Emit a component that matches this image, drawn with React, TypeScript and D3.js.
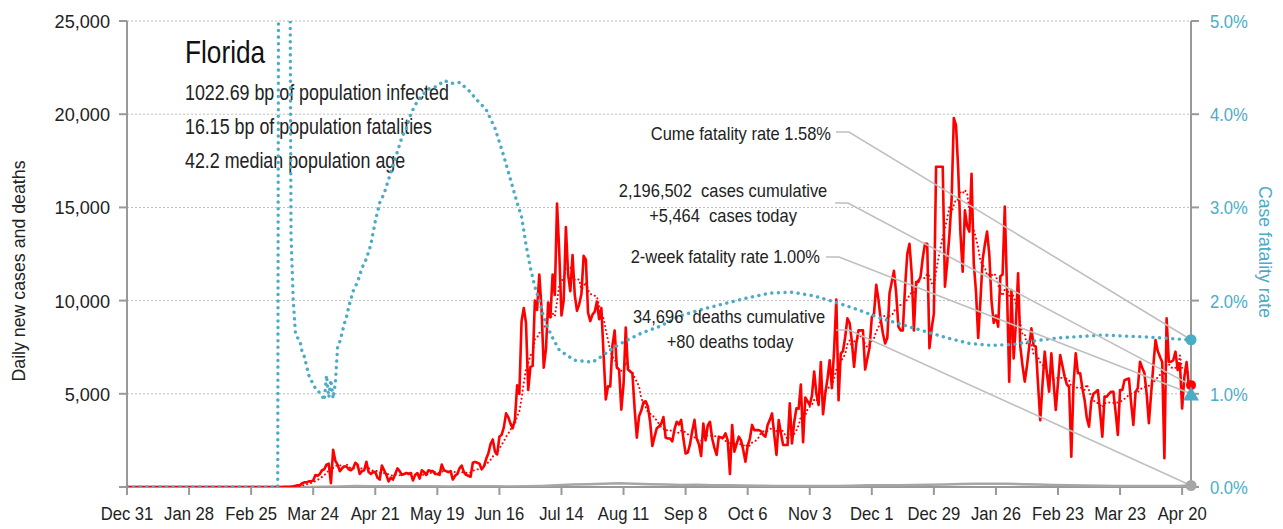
import React from 'react';
import * as d3 from 'd3';

// ---- data ----
const seriesStart = '2019-12-31';
const seriesEnd = '2021-04-24';

// daily new cases, one value per day from casesStart
const casesStart = '2020-03-01';
const dailyCases = [
  0, 2, 1, 2, 2, 4, 4, // Mar 1
  3, 4, 4, 15, 7, 16, 25,
  40, 60, 90, 100, 200, 250, 250,
  300, 300, 350, 640, 600, 700, 900,
  950, 1200, 1250, 200, 2000, 1400, 1200, // Mar 29
  850, 1000, 1100, 1100, 950, 900, 1000,
  1300, 1200, 700, 850, 900, 1350, 800,
  700, 800, 800, 500, 400, 1150, 900,
  650, 300, 500, 400, 700, 1000, 850, // Apr 26
  650, 700, 750, 700, 750, 350, 650,
  750, 450, 900, 800, 650, 900, 850,
  850, 700, 700, 650, 1200, 900, 850,
  800, 850, 400, 600, 700, 1000, 1150, // May 24
  800, 650, 600, 550, 1300, 1350, 1300,
  1250, 950, 1100, 1500, 1800, 2300, 2550,
  1900, 1750, 2700, 2800, 3200, 3950, 3750,
  3400, 3150, 3600, 5450, 5000, 8900, 9600, // Jun 21
  8800, 5200, 6450, 6500, 10000, 9500, 11400,
  9600, 6400, 7400, 9900, 9100, 11400, 10300,
  15200, 12600, 9200, 10000, 13950, 11400, 10500,
  12450, 10300, 9450, 9800, 10350, 12400, 12200, // Jul 19
  9350, 8900, 9250, 9400, 9950, 9000, 9600,
  7100, 4700, 5400, 5400, 7600, 8400, 6400,
  6300, 4150, 5500, 8550, 6300, 6200, 6100,
  4200, 2650, 3800, 4100, 4550, 4600, 4300, // Aug 16
  3500, 2200, 2700, 3150, 3250, 3400, 3750,
  2650, 2600, 2600, 2450, 3100, 3500, 3350,
  3600, 2600, 1800, 1850, 2300, 3000, 3600,
  2600, 2300, 1660, 3400, 2500, 3300, 3500, // Sep 13
  2600, 2100, 1720, 2700, 2650, 2650, 2880,
  2500, 700, 3330, 1900, 2300, 2700, 2500,
  2000, 1360, 2200, 2600, 3330, 3050, 3050,
  3050, 3000, 2800, 2700, 3330, 3600, 3950, // Oct 11
  2800, 1720, 3590, 2900, 2250, 2250, 2250,
  4490, 2340, 3500, 4220, 4200, 5500, 2400,
  4800, 4600, 4400, 4900, 6200, 5000, 4400,
  6700, 3900, 5000, 5800, 6800, 5300, 7350, // Nov 8
  10050, 4650, 7150, 7300, 8050, 9050, 8800,
  7800, 6450, 7700, 8400, 8400, 8400, 6300,
  6900, 7500, 9100, 9300, 10850, 10050, 9000,
  8250, 7700, 8000, 10400, 11000, 11600, 10400, // Dec 6
  8600, 8400, 8400, 10700, 12500, 13050, 11450,
  8400, 11000, 11000, 11300, 12300, 13050, 13050,
  7450, 8500, 9300, 17180, 17180, 17180, 17180,
  10750, 12000, 13500, 15400, 19800, 19400, 17000, // Jan 3
  13600, 11550, 14850, 14000, 13700, 16800, 12000,
  10500, 8000, 10000, 12200, 13000, 13700, 12500,
  10000, 8800, 9200, 8600, 11300, 11400, 15040,
  10570, 5650, 10570, 6900, 8780, 11460, 7530, // Jan 31
  6500, 5650, 6500, 7530, 8510, 7600, 7530,
  5500, 3590, 5500, 7260, 6100, 5110, 7170,
  5600, 4130, 5600, 7080, 6500, 5910, 5500,
  5380, 1630, 5500, 7170, 6100, 6100, 5300, // Feb 28
  4670, 3700, 3240, 4600, 5000, 5100, 5200,
  4000, 2700, 4850, 4850, 5000, 5110, 5110,
  4000, 2790, 5200, 5200, 5730, 5780, 5820,
  4500, 3330, 5100, 5300, 6720, 6400, 6100, // Mar 28
  5000, 3420, 5000, 6500, 7890, 7300, 6990,
  6700, 1540, 9050, 6720, 6720, 6800, 7260,
  6270, 6630, 4220, 5910, 6700, 5464,
];

// daily deaths, sampled once a week from deathsStart
const deathsStart = '2020-03-01';
const weeklyDeaths = [
  0, 0, 2, 5, 15, 30, 50, 45, 40, 45, 40, 40, 30, 35, 35, 35, 30, 40,
  60, 90, 130, 150, 180, 200, 170, 150, 130, 110, 120, 100, 90, 80, 70, 60,
  60, 55, 55, 60, 70, 90, 100, 100, 110, 120, 140, 160, 170, 180, 170, 150,
  130, 110, 90, 75, 65, 60, 55, 55, 55, 60,
];

// cumulative case fatality rate, %
const cfrDates = [
  '2019-12-31', '2020-03-08', '2020-03-09', '2020-03-13', '2020-03-14', '2020-03-15',
  '2020-03-16', '2020-03-17', '2020-03-18', '2020-03-19', '2020-03-20', '2020-03-21',
  '2020-03-22', '2020-03-23', '2020-03-24', '2020-03-25', '2020-03-26', '2020-03-27',
  '2020-03-28', '2020-03-29', '2020-03-30', '2020-03-31', '2020-04-01', '2020-04-02',
  '2020-04-03', '2020-04-04', '2020-04-05', '2020-04-06', '2020-04-07', '2020-04-08',
  '2020-04-09', '2020-04-11', '2020-04-13', '2020-04-15', '2020-04-17', '2020-04-19',
  '2020-04-21', '2020-04-23', '2020-04-25', '2020-04-27', '2020-04-29', '2020-05-01',
  '2020-05-03', '2020-05-05', '2020-05-07', '2020-05-09', '2020-05-12', '2020-05-15',
  '2020-05-19', '2020-05-22', '2020-05-26', '2020-05-29', '2020-06-02', '2020-06-06',
  '2020-06-10', '2020-06-14', '2020-06-18', '2020-06-21', '2020-06-24', '2020-06-26',
  '2020-06-28', '2020-06-30', '2020-07-02', '2020-07-04', '2020-07-06', '2020-07-08',
  '2020-07-10', '2020-07-13', '2020-07-16', '2020-07-20', '2020-07-24', '2020-07-28',
  '2020-08-01', '2020-08-05', '2020-08-09', '2020-08-13', '2020-08-19', '2020-08-27',
  '2020-09-06', '2020-09-16', '2020-09-26', '2020-10-06', '2020-10-16', '2020-10-26',
  '2020-11-05', '2020-11-15', '2020-11-25', '2020-12-05', '2020-12-15', '2020-12-25',
  '2021-01-04', '2021-01-14', '2021-01-24', '2021-02-03', '2021-02-13', '2021-02-23',
  '2021-03-15', '2021-04-04', '2021-04-23',
];
const cfrValues = [
  0, 0, 15, 9, 2.7, 2.0,
  1.65, 1.6, 1.57, 1.45, 1.4, 1.3,
  1.2, 1.15, 1.1, 1.06, 1.05, 1.0,
  0.98, 0.93, 1.2, 0.96, 1.15, 0.95,
  1.12, 1.5, 1.56, 1.65, 1.75, 1.82,
  1.93, 2.1, 2.2, 2.35, 2.45, 2.6,
  2.85, 3.05, 3.15, 3.3, 3.45, 3.6,
  3.75, 3.85, 4.0, 4.1, 4.2, 4.27,
  4.3, 4.36, 4.33, 4.34, 4.26, 4.15,
  4.05, 3.85, 3.55, 3.3, 3.05, 2.9,
  2.6, 2.35, 2.15, 2.0, 1.82, 1.7,
  1.6, 1.47, 1.42, 1.36, 1.35, 1.34,
  1.4, 1.47, 1.53, 1.58, 1.65, 1.72,
  1.84, 1.91, 1.97, 2.03, 2.08, 2.09,
  2.05, 1.98, 1.9, 1.81, 1.74, 1.67,
  1.6, 1.54, 1.52, 1.53, 1.57, 1.6,
  1.63, 1.61, 1.58,
];

const leftTicks = [0, 5000, 10000, 15000, 20000, 25000];
const rightTicks = [0, 1, 2, 3, 4, 5];
const xTickStepDays = 28;

const title = 'Florida';
const subtitles = [
  '1022.69 bp of population infected',
  '16.15 bp of population fatalities',
  '42.2 median population age',
];

const cumeCfr = 1.58;
const twoWeekCfr = 1.0;
const casesToday = 5464;
const casesCumulative = 2196502;
const deathsToday = 80;
const deathsCumulative = 34696;

const RED = '#ff0000';
const TEAL = '#4bacc6';
const GRAY = '#a6a6a6';
const AXIS = '#999999';
const FONT = "'Liberation Sans', Arial, sans-serif";

// text squeezed horizontally to mimic the condensed face of the original
const T = ({ x, y, size, sx = 1, anchor = 'start', fill = '#222', rotate = 0, children }: any) => (
  <text
    transform={`translate(${x},${y})${rotate ? ` rotate(${rotate})` : ''} scale(${sx},1)`}
    fontSize={size}
    textAnchor={anchor}
    fill={fill}
    style={{ whiteSpace: 'pre' }}
  >
    {children}
  </text>
);

export default function App() {
  const parse = d3.timeParse('%Y-%m-%d');
  const start = parse(seriesStart) as Date;
  const end = parse(seriesEnd) as Date;

  const left = 127;
  const right = 1191;
  const top = 21;
  const bottom = 487;

  const x = d3.scaleTime().domain([start, end]).range([left, right]);
  const yL = d3.scaleLinear().domain([0, 25000]).range([bottom, top]);
  const yR = d3.scaleLinear().domain([0, 5]).range([bottom, top]);

  const c0 = parse(casesStart) as Date;
  const cases = [{ date: start, v: 0 }].concat(
    dailyCases.map((v, i) => ({ date: d3.timeDay.offset(c0, i), v }))
  );
  // trailing 7-day mean of the daily counts
  const avg = [{ date: start, v: 0 }].concat(
    dailyCases.map((_, i) => ({
      date: d3.timeDay.offset(c0, i),
      v: d3.mean(dailyCases.slice(Math.max(0, i - 6), i + 1)) as number,
    }))
  );
  const d0 = parse(deathsStart) as Date;
  const lastDay = d3.timeDay.offset(c0, dailyCases.length - 1);
  const deaths = [{ date: start, v: 0 }]
    .concat(weeklyDeaths.map((v, i) => ({ date: d3.timeDay.offset(d0, i * 7), v })))
    .concat([{ date: lastDay, v: deathsToday }]);
  const cfr = cfrDates.map((d, i) => ({ date: parse(d) as Date, v: cfrValues[i] }));

  const lineL = d3.line<{ date: Date; v: number }>().x(d => x(d.date)).y(d => yL(d.v));
  const lineR = d3.line<{ date: Date; v: number }>().x(d => x(d.date)).y(d => yR(d.v));

  const xTicks = d3.range(0, d3.timeDay.count(start, end) - 3, xTickStepDays).map(n => d3.timeDay.offset(start, n));
  const fmtDate = d3.timeFormat('%b %-d');
  const fmtNum = d3.format(',');

  const mx = right;
  const markers = {
    cume: yR(cumeCfr),
    cases: yL(casesToday),
    twoWeek: yR(twoWeekCfr),
    deaths: yL(deathsToday),
  };

  const leaders = [
    { x0: 836, y0: 132, y1: markers.cume },
    { x0: 835, y0: 203, y1: markers.cases },
    { x0: 826, y0: 257, y1: markers.twoWeek },
    { x0: 836, y0: 330, y1: markers.deaths },
  ];

  return (
    <svg width={1283} height={529} style={{ position: 'absolute', left: 0, top: 0, background: '#fff' }} fontFamily={FONT}>
      <defs>
        <clipPath id="plot">
          <rect x={left} y={top} width={right - left} height={bottom - top} />
        </clipPath>
      </defs>

      {/* gridlines */}
      {leftTicks.filter(t => t > 0).map(t => (
        <line key={t} x1={left} x2={right} y1={yL(t)} y2={yL(t)} stroke="#bdbdbd" strokeWidth={1} strokeDasharray="2 2" />
      ))}

      {/* axes */}
      <line x1={left} x2={left} y1={top} y2={bottom} stroke={AXIS} strokeWidth={2} />
      <line x1={right} x2={right} y1={top} y2={bottom} stroke={AXIS} strokeWidth={2} />
      <line x1={left} x2={right} y1={bottom} y2={bottom} stroke={AXIS} strokeWidth={2} />
      {leftTicks.map(t => (
        <g key={t}>
          <line x1={left - 8} x2={left} y1={yL(t)} y2={yL(t)} stroke={AXIS} strokeWidth={2} />
          {t > 0 && <T x={110} y={yL(t) + 7} size={18.5} sx={0.98} anchor="end">{fmtNum(t)}</T>}
        </g>
      ))}
      {rightTicks.map(t => (
        <g key={t}>
          <line x1={right} x2={right + 8} y1={yR(t)} y2={yR(t)} stroke={AXIS} strokeWidth={2} />
          <T x={1210} y={yR(t) + 7} size={18.5} sx={0.9} fill={TEAL}>{t.toFixed(1) + '%'}</T>
        </g>
      ))}
      {xTicks.map(t => (
        <g key={t.getTime()}>
          <line x1={x(t)} x2={x(t)} y1={bottom} y2={bottom + 8} stroke={AXIS} strokeWidth={2} />
          <T x={x(t)} y={520} size={18.5} sx={0.9} anchor="middle">{fmtDate(t)}</T>
        </g>
      ))}

      {/* axis titles */}
      <T x={25} y={271} size={18.5} sx={0.96} rotate={-90} anchor="middle">Daily new cases and deaths</T>
      <T x={1259} y={252} size={18.5} sx={0.95} rotate={90} anchor="middle" fill={TEAL}>Case fatality rate</T>

      {/* title block */}
      <T x={185} y={63} size={32} sx={0.82} fill="#111">{title}</T>
      {subtitles.map((s, i) => (
        <T key={s} x={185} y={100 + i * 34} size={21.5} sx={0.83}>{s}</T>
      ))}

      {/* series */}
      <g clipPath="url(#plot)">
        <path d={lineL(deaths) as string} fill="none" stroke={GRAY} strokeWidth={2.5} strokeLinejoin="round" />
        <path d={lineL(avg) as string} fill="none" stroke={RED} strokeWidth={2} strokeDasharray="0.1 4" strokeLinecap="round" />
        <path d={lineL(cases) as string} fill="none" stroke={RED} strokeWidth={2.6} strokeLinejoin="round" />
        <path d={lineR(cfr) as string} fill="none" stroke={TEAL} strokeWidth={3.4} strokeDasharray="0.1 6.5" strokeLinecap="round" />
      </g>

      {/* leader lines */}
      {leaders.map((l, i) => (
        <polyline
          key={i}
          points={`${l.x0},${l.y0} ${l.x0 + 13},${l.y0} ${mx},${l.y1}`}
          fill="none"
          stroke="#bfbfbf"
          strokeWidth={1.6}
        />
      ))}

      {/* end markers */}
      <circle cx={mx} cy={markers.cume} r={5.5} fill={TEAL} />
      <circle cx={mx} cy={markers.cases} r={5} fill={RED} />
      <path d={d3.symbol(d3.symbolTriangle, 110)() as string} transform={`translate(${mx},${markers.twoWeek + 2})`} fill={TEAL} />
      <circle cx={mx} cy={markers.deaths} r={5.5} fill={GRAY} />

      {/* annotations */}
      <g>
        <T x={831} y={140} size={18.5} sx={0.89} anchor="end">{`Cume fatality rate ${cumeCfr.toFixed(2)}%`}</T>
        <T x={723} y={197} size={18.5} sx={0.89} anchor="middle">{`${fmtNum(casesCumulative)}  cases cumulative`}</T>
        <T x={723} y={222} size={18.5} sx={0.89} anchor="middle">{`+${fmtNum(casesToday)}  cases today`}</T>
        <T x={820} y={263} size={18.5} sx={0.89} anchor="end">{`2-week fatality rate ${twoWeekCfr.toFixed(2)}%`}</T>
        <T x={729} y={323} size={18.5} sx={0.89} anchor="middle">{`${fmtNum(deathsCumulative)}  deaths cumulative`}</T>
        <T x={730} y={348} size={18.5} sx={0.89} anchor="middle">{`+${deathsToday} deaths today`}</T>
      </g>
    </svg>
  );
}
